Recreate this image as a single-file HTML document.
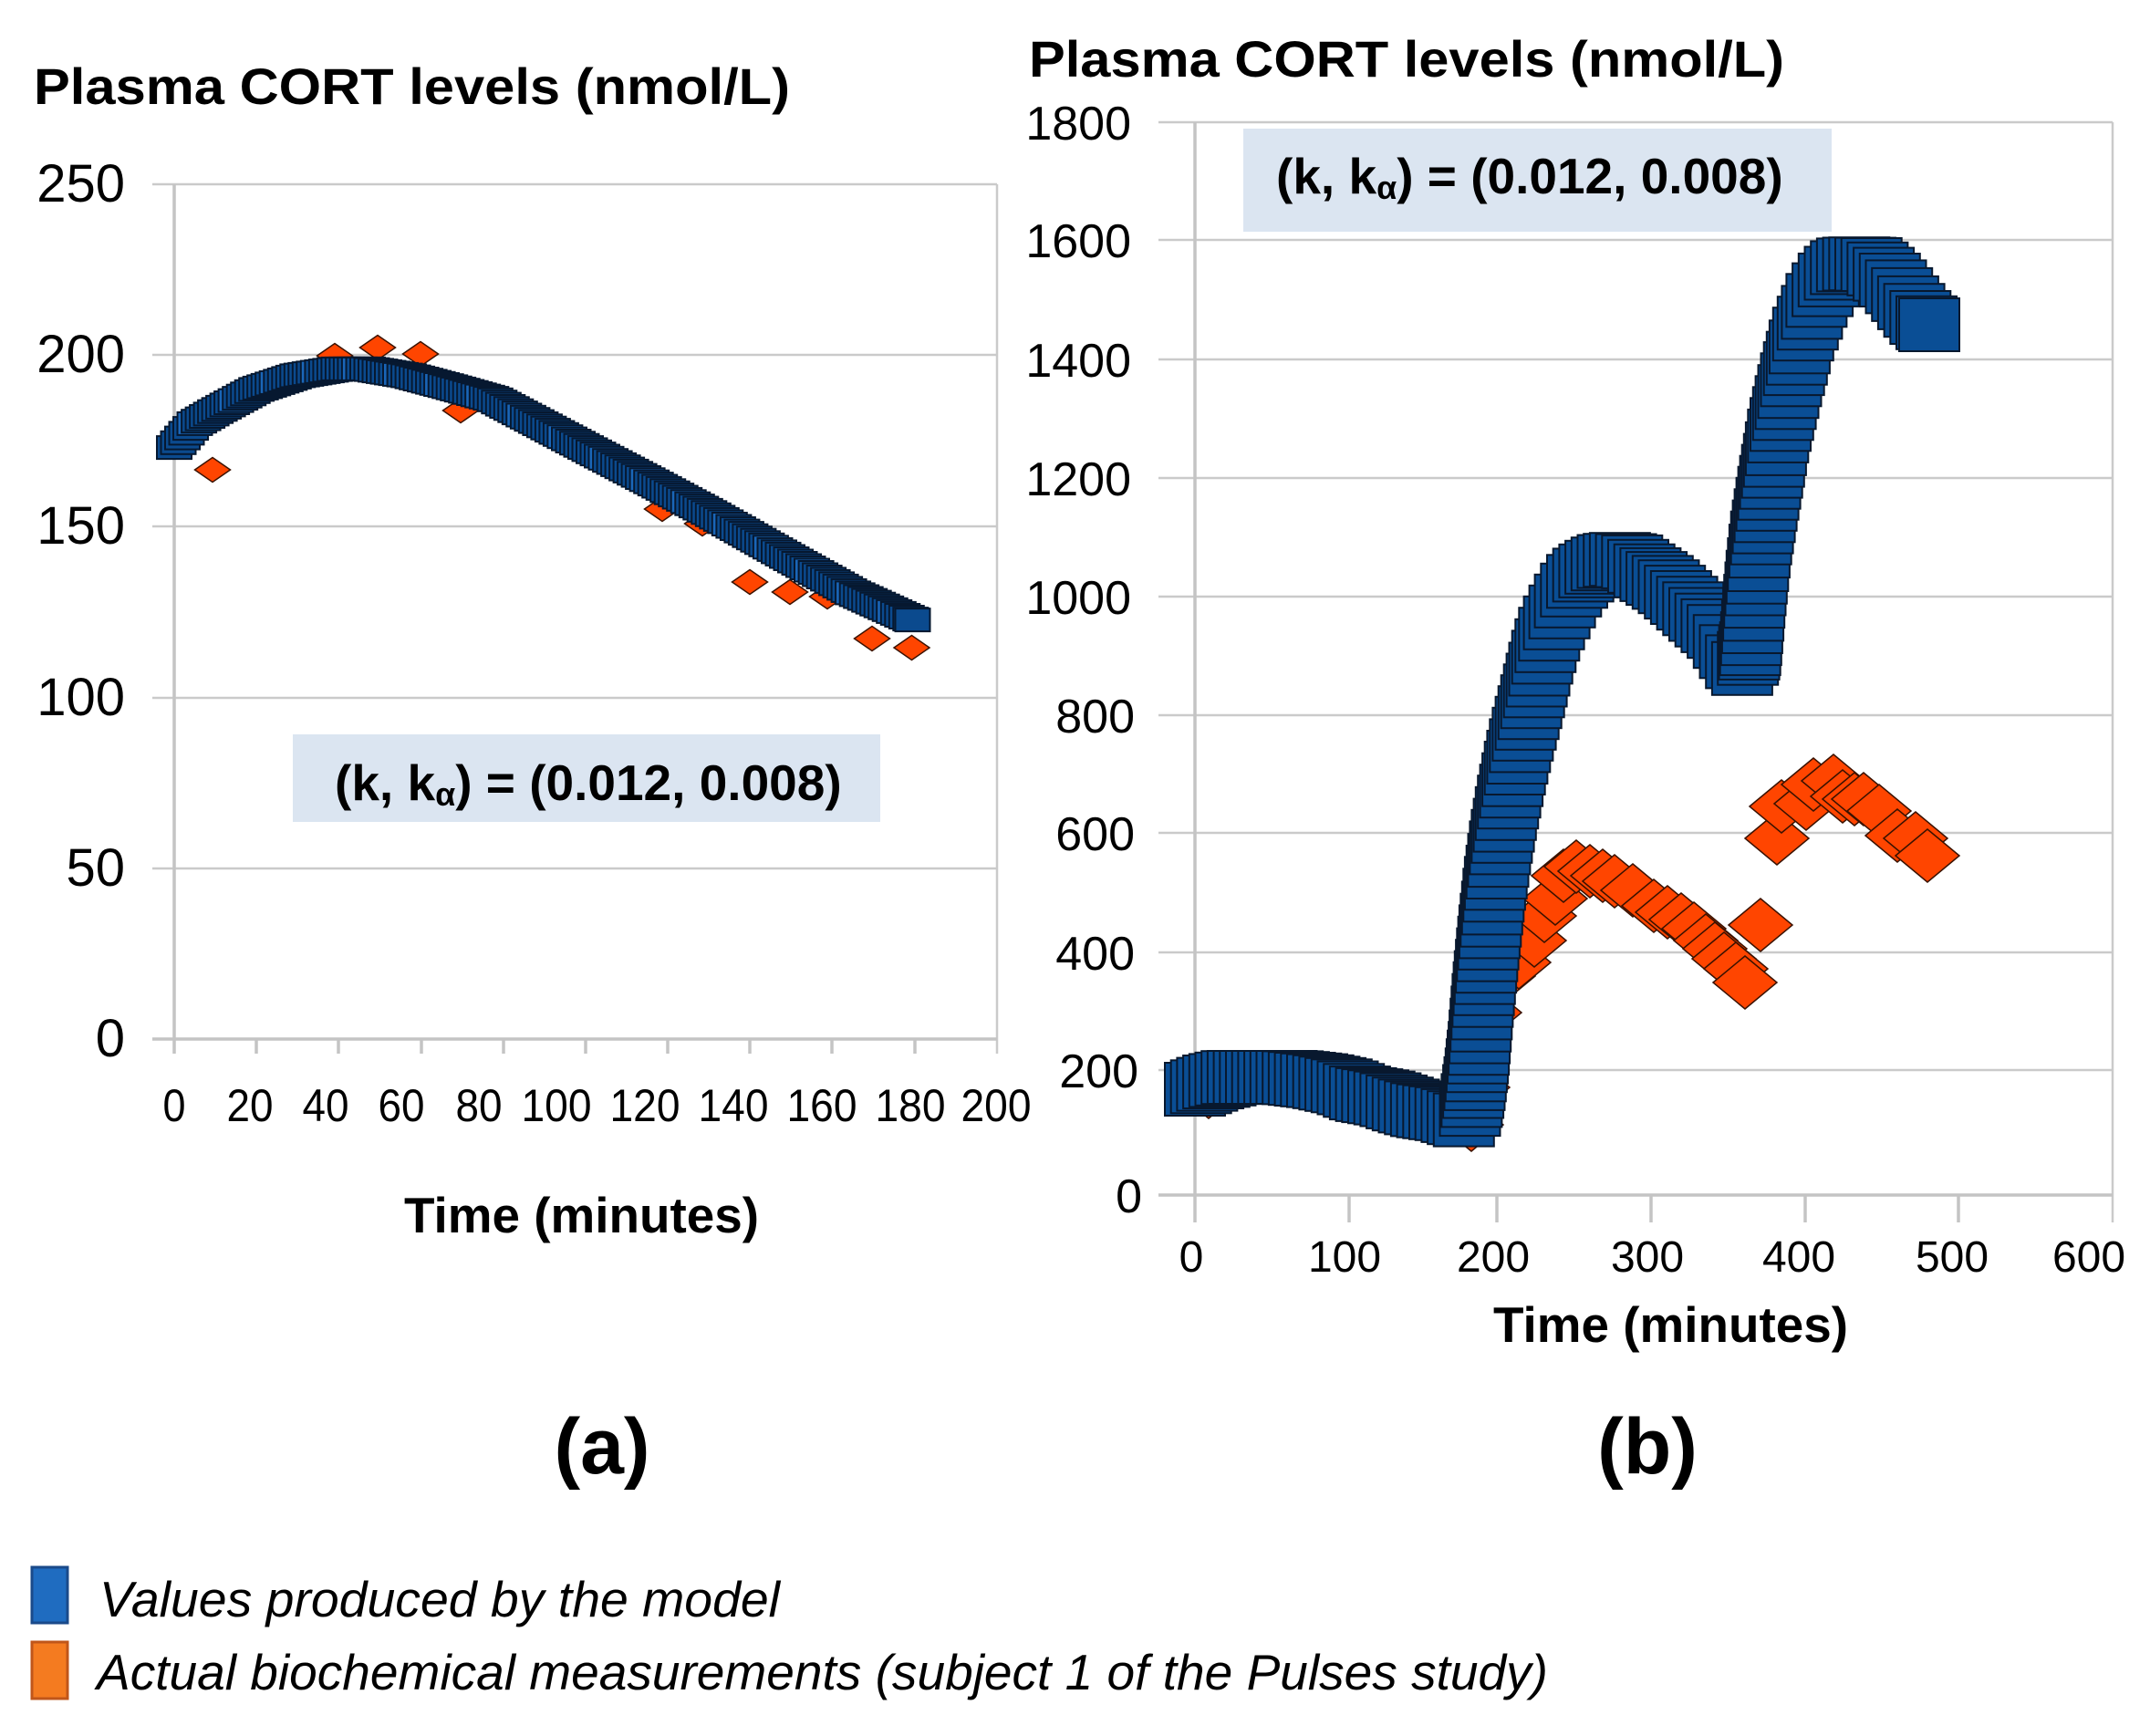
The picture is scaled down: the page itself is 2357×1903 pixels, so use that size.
<!DOCTYPE html>
<html><head><meta charset="utf-8"><style>
html,body{margin:0;padding:0;background:#fff;}
svg{display:block;}
text{font-family:"Liberation Sans",Arial,sans-serif;fill:#000;}
</style></head><body>
<svg id="s" xmlns="http://www.w3.org/2000/svg" width="2357" height="1903" viewBox="0 0 2357 1903">
<rect x="0" y="0" width="2357" height="1903" fill="#fff"/>

<!-- ===== LEFT CHART ===== -->
<text x="37" y="114" font-size="56" font-weight="bold" textLength="829" lengthAdjust="spacingAndGlyphs">Plasma CORT levels (nmol/L)</text>
<g stroke="#cacaca" stroke-width="2.5" fill="none">
<line x1="167" y1="202" x2="1093" y2="202"/>
<line x1="167" y1="389" x2="1093" y2="389"/>
<line x1="167" y1="577" x2="1093" y2="577"/>
<line x1="167" y1="765" x2="1093" y2="765"/>
<line x1="167" y1="952" x2="1093" y2="952"/>
<line x1="1093" y1="202" x2="1093" y2="1155"/>
</g>
<g stroke="#c4c4c4" stroke-width="3.5" fill="none">
<line x1="191" y1="202" x2="191" y2="1155"/>
<line x1="167" y1="1139" x2="1093" y2="1139"/>
<line x1="281" y1="1139" x2="281" y2="1155"/>
<line x1="371" y1="1139" x2="371" y2="1155"/>
<line x1="462" y1="1139" x2="462" y2="1155"/>
<line x1="552" y1="1139" x2="552" y2="1155"/>
<line x1="642" y1="1139" x2="642" y2="1155"/>
<line x1="732" y1="1139" x2="732" y2="1155"/>
<line x1="822" y1="1139" x2="822" y2="1155"/>
<line x1="912" y1="1139" x2="912" y2="1155"/>
<line x1="1003" y1="1139" x2="1003" y2="1155"/>
</g>
<g font-size="58" text-anchor="end">
<text x="137" y="221">250</text>
<text x="137" y="408">200</text>
<text x="137" y="596">150</text>
<text x="137" y="784">100</text>
<text x="137" y="971">50</text>
<text x="137" y="1158">0</text>
</g>
<g font-size="50" text-anchor="middle">
<text x="191" y="1229" textLength="25" lengthAdjust="spacingAndGlyphs">0</text>
<text x="274" y="1229" textLength="51" lengthAdjust="spacingAndGlyphs">20</text>
<text x="357" y="1229" textLength="51" lengthAdjust="spacingAndGlyphs">40</text>
<text x="440" y="1229" textLength="51" lengthAdjust="spacingAndGlyphs">60</text>
<text x="525" y="1229" textLength="51" lengthAdjust="spacingAndGlyphs">80</text>
<text x="610" y="1229" textLength="77" lengthAdjust="spacingAndGlyphs">100</text>
<text x="707" y="1229" textLength="77" lengthAdjust="spacingAndGlyphs">120</text>
<text x="804" y="1229" textLength="77" lengthAdjust="spacingAndGlyphs">140</text>
<text x="901" y="1229" textLength="77" lengthAdjust="spacingAndGlyphs">160</text>
<text x="998" y="1229" textLength="77" lengthAdjust="spacingAndGlyphs">180</text>
<text x="1092" y="1229" textLength="77" lengthAdjust="spacingAndGlyphs">200</text>
</g>
<text x="443" y="1351" font-size="55" font-weight="bold" textLength="389" lengthAdjust="spacingAndGlyphs">Time (minutes)</text>

<g id="lo" fill="#ff4500" stroke="#3a1200" stroke-width="1.5"></g>
<g id="lb" fill="#0b4a8e" stroke="#061830" stroke-width="2"></g>

<rect x="321" y="805" width="644" height="96" fill="#dbe5f1"/>
<text x="367" y="877" font-size="55" font-weight="bold">(k, k<tspan font-size="36" dy="6">α</tspan><tspan dy="-6">) = (0.012, 0.008)</tspan></text>

<!-- ===== RIGHT CHART ===== -->
<text x="1128" y="84" font-size="56" font-weight="bold" textLength="828" lengthAdjust="spacingAndGlyphs">Plasma CORT levels (nmol/L)</text>
<g stroke="#cacaca" stroke-width="2.5" fill="none">
<line x1="1270" y1="134" x2="2316" y2="134"/>
<line x1="1270" y1="263" x2="2316" y2="263"/>
<line x1="1270" y1="394" x2="2316" y2="394"/>
<line x1="1270" y1="524" x2="2316" y2="524"/>
<line x1="1270" y1="654" x2="2316" y2="654"/>
<line x1="1270" y1="784" x2="2316" y2="784"/>
<line x1="1270" y1="913" x2="2316" y2="913"/>
<line x1="1270" y1="1044" x2="2316" y2="1044"/>
<line x1="1270" y1="1173" x2="2316" y2="1173"/>
<line x1="2316" y1="134" x2="2316" y2="1340"/>
</g>
<g stroke="#c4c4c4" stroke-width="3.5" fill="none">
<line x1="1310" y1="134" x2="1310" y2="1340"/>
<line x1="1270" y1="1310" x2="2316" y2="1310"/>
<line x1="1479" y1="1310" x2="1479" y2="1340"/>
<line x1="1641" y1="1310" x2="1641" y2="1340"/>
<line x1="1810" y1="1310" x2="1810" y2="1340"/>
<line x1="1979" y1="1310" x2="1979" y2="1340"/>
<line x1="2147" y1="1310" x2="2147" y2="1340"/>
</g>
<g font-size="52" text-anchor="end">
<text x="1240" y="153">1800</text>
<text x="1240" y="282">1600</text>
<text x="1240" y="413">1400</text>
<text x="1240" y="543">1200</text>
<text x="1240" y="673">1000</text>
<text x="1244" y="803">800</text>
<text x="1244" y="932">600</text>
<text x="1244" y="1063">400</text>
<text x="1248" y="1192">200</text>
<text x="1252" y="1329">0</text>
</g>
<g font-size="48" text-anchor="middle">
<text x="1306" y="1394">0</text>
<text x="1474" y="1394">100</text>
<text x="1637" y="1394">200</text>
<text x="1806" y="1394">300</text>
<text x="1972" y="1394">400</text>
<text x="2140" y="1394">500</text>
<text x="2290" y="1394">600</text>
</g>
<text x="1637" y="1471" font-size="55" font-weight="bold" textLength="389" lengthAdjust="spacingAndGlyphs">Time (minutes)</text>

<g id="ro" fill="#ff4500" stroke="#3a1200" stroke-width="1.5"></g>
<g id="rb" fill="#0a4e95" stroke="#08182e" stroke-width="2"></g>

<rect x="1363" y="141" width="645" height="113" fill="#dbe5f1"/>
<text x="1399" y="212" font-size="55" font-weight="bold">(k, k<tspan font-size="36" dy="6">α</tspan><tspan dy="-6">) = (0.012, 0.008)</tspan></text>

<!-- ===== LABELS & LEGEND ===== -->
<text x="660" y="1615" font-size="86" font-weight="bold" text-anchor="middle">(a)</text>
<text x="1806" y="1615" font-size="86" font-weight="bold" text-anchor="middle">(b)</text>

<rect x="35" y="1718" width="39" height="61" fill="#1f6cc0" stroke="#1a4a8a" stroke-width="3"/>
<text x="109" y="1772" font-size="55" font-style="italic" textLength="746" lengthAdjust="spacingAndGlyphs">Values produced by the model</text>
<rect x="35" y="1800" width="39" height="62" fill="#f47b20" stroke="#c0561a" stroke-width="3"/>
<text x="106" y="1852" font-size="55" font-style="italic" textLength="1591" lengthAdjust="spacingAndGlyphs">Actual biochemical measurements (subject 1 of the Pulses study)</text>
</svg>
<script>
(function(){
var NS='http://www.w3.org/2000/svg';
function interp(p,x){if(x<=p[0][0])return p[0][1];for(var i=0;i<p.length-1;i++){if(x<=p[i+1][0]){var a=p[i],b=p[i+1];return a[1]+(b[1]-a[1])*(x-a[0])/(b[0]-a[0]);}}return p[p.length-1][1];}
function walk(p,x0,x1,dx,maxdy){var out=[],x=x0;while(x<=x1+0.01){var y=interp(p,x);out.push([x,y]);var nx=x+dx,ny=interp(p,nx),d=Math.abs(ny-y);if(d>maxdy){nx=x+Math.max(0.6,dx*maxdy/d);}x=nx;}
if(out[out.length-1][0]<x1-0.5)out.push([x1,interp(p,x1)]);return out;}
function rects(g,pts,w,h,hl){for(var i=0;i<pts.length;i++){var r=document.createElementNS(NS,'rect');r.setAttribute('x',(pts[i][0]-w/2).toFixed(1));r.setAttribute('y',(pts[i][1]-h/2).toFixed(1));r.setAttribute('width',w);r.setAttribute('height',h);if(hl&&i%10==5)r.setAttribute('fill','#1a66b8');g.appendChild(r);}}
function diamonds(g,pts,w,h){for(var i=0;i<pts.length;i++){var x=pts[i][0],y=pts[i][1];var q=document.createElementNS(NS,'polygon');q.setAttribute('points',(x-w/2)+','+y+' '+x+','+(y-h/2)+' '+(x+w/2)+','+y+' '+x+','+(y+h/2));g.appendChild(q);}}
/* left chart */
var lt=[[0,173],[5,180],[10,183.5],[20,190],[30,194],[40,196],[47,196],[57,194],[67,190.8],[77.6,187.2],[100,173],[115,163.6],[130,154],[151,139.8],[165,130.5],[180,122.3]];
var lp=lt.map(function(a){return [191+4.51*a[0],1139-3.748*a[1]];});
diamonds(document.getElementById('lo'),[[233,515],[367,390],[414,381],[461,388],[505,450],[726,558],[770,574],[822,638],[866,649],[907,654],[956,700],[999.5,710]],39,27);
rects(document.getElementById('lb'),walk(lp,191,1000.5,4.51,6),38,25,true);
/* right chart */
var rp=[[1310,1194],[1320,1190],[1330,1186],[1351,1181],[1414,1181],[1447,1185],[1474,1191],[1493,1199],[1520,1204],[1540,1211],[1560,1217],[1586,1221],[1606,1228],[1612,1215],[1617,1185],[1621,1150],[1626,1090],[1632,1030],[1638,975],[1645,925],[1652,885],[1660,845],[1668,810],[1676,780],[1684,748],[1692,715],[1700,690],[1710,670],[1720,650],[1732,633],[1745,624],[1760,616],[1775,613],[1790,616],[1800,624],[1827,641],[1844,656],[1857,668],[1883,692],[1906,730],[1913,735],[1919,710],[1924,650],[1930,594],[1937,550],[1944,509],[1950,474],[1957,444],[1964,414],[1970,392],[1976,368],[1984,349],[1991,330],[1999,316],[2006,305],[2013,298],[2021,291],[2035,289],[2052,290],[2060,296],[2070,305],[2080,316],[2095,336],[2107,350],[2115,356]];
diamonds(document.getElementById('ro'),[[1325,1197],[1546,1219],[1613,1233],[1620,1192],[1633,1110],[1648,1070],
[1665,1055],[1682,1031],[1693,1004],[1705,985],[1714,960],[1728,950],[1743,955],[1757,960],[1770,966],[1790,976],[1813,993],[1828,1000],[1843,1008],[1857,1018],[1870,1031],[1880,1040],[1890,1051],[1903,1062],[1913,1077],
[1930,1014],[1948,919],[1953,884],[1980,881],[1988,860],[2010,856],[2020,873],[2033,876],[2043,876],[2060,889],[2080,916],[2100,919],[2113,938]],70,58);
rects(document.getElementById('rb'),walk(rp,1310,2115,6.7,12),66,58,false);
})();
</script>
</body></html>
